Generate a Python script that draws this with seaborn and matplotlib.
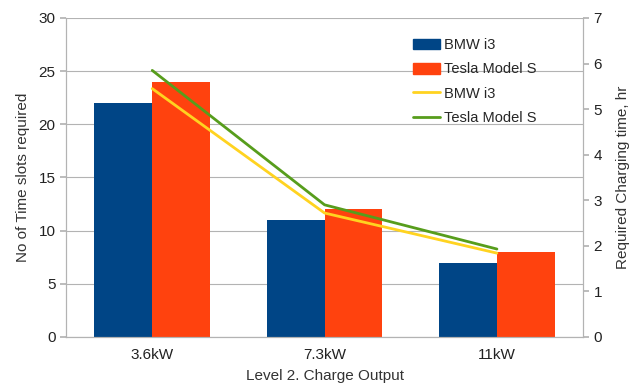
import matplotlib
matplotlib.use("Agg")
import matplotlib.pyplot as plt
import seaborn as sns
import pandas as pd
from matplotlib.patches import Patch
from matplotlib.lines import Line2D

categories = ["3.6kW", "7.3kW", "11kW"]
slots_bmw = [22, 11, 7]
slots_tesla = [24, 12, 8]
hours_bmw = [5.45, 2.72, 1.84]
hours_tesla = [5.85, 2.9, 1.93]
series = ["BMW i3", "Tesla Model S"]

blue, orange, yellow, green = "#004586", "#ff420e", "#ffd320", "#579d1c"
grid_gray = "#b3b3b3"
text_col = "#222222"
fs = 11

sns.set_theme(style="white")
plt.rcParams["font.family"] = ["Liberation Sans", "DejaVu Sans"]
plt.rcParams["font.size"] = fs

bars = pd.DataFrame({
    "output": categories * 2,
    "slots": slots_bmw + slots_tesla,
    "car": [series[0]] * 3 + [series[1]] * 3,
})
lines = pd.DataFrame({
    "pos": list(range(len(categories))) * 2,
    "hours": hours_bmw + hours_tesla,
    "car": [series[0]] * 3 + [series[1]] * 3,
})

fig = plt.figure(figsize=(6.29, 3.85), dpi=100)
ax = fig.add_axes([0.105, 0.1247, 0.822, 0.8286])

# bars: time slots per charger output
sns.barplot(data=bars, x="output", y="slots", hue="car", order=categories,
            hue_order=series, palette=[blue, orange], width=0.67,
            saturation=1, ax=ax, legend=False, linewidth=0)
ax.set_ylim(0, 30)
ax.set_yticks(range(0, 31, 5))
ax.set_xlim(-0.5, 2.5)
ax.yaxis.grid(True, color=grid_gray, linewidth=0.8)
ax.set_axisbelow(True)
ax.set_ylabel("No of Time slots required", fontsize=fs, color="#333333", labelpad=6)
ax.set_xlabel("Level 2. Charge Output", fontsize=fs, color="#333333", labelpad=5)
ax.set_xticks(range(len(categories)))
ax.set_xticklabels(categories)
ax.set_xticks([0.5, 1.5], minor=True)
ax.tick_params(axis="x", which="major", length=0, pad=8, labelsize=fs, labelcolor=text_col)
ax.tick_params(axis="x", which="minor", length=5, color=grid_gray, direction="out")
ax.tick_params(axis="y", length=4, color=grid_gray, direction="out", labelsize=fs, labelcolor=text_col)
for sp in ax.spines.values():
    sp.set_color(grid_gray)
    sp.set_linewidth(0.8)
ax.spines["top"].set_visible(False)

# lines: charging time on the secondary axis
ax2 = ax.twinx()
sns.lineplot(data=lines, x="pos", y="hours", hue="car", hue_order=series,
             palette=[yellow, green], linewidth=2, ax=ax2, legend=False)
ax2.set_ylim(0, 7)
ax2.set_yticks(range(0, 8))
ax2.set_xlim(-0.5, 2.5)
ax2.set_ylabel("Required Charging time, hr", fontsize=fs, color="#333333", labelpad=10)
ax2.tick_params(axis="y", length=4, color=grid_gray, direction="out", labelsize=fs, labelcolor=text_col)
for sp in ax2.spines.values():
    sp.set_color(grid_gray)
    sp.set_linewidth(0.8)
ax2.spines["top"].set_visible(False)

handles = [Patch(color=blue), Patch(color=orange),
           Line2D([], [], color=yellow, linewidth=2),
           Line2D([], [], color=green, linewidth=2)]
ax2.legend(handles, series + series, loc="upper left", bbox_to_anchor=(0.66, 0.955),
           frameon=False, fontsize=10.5, handlelength=1.85, handleheight=0.75,
           labelspacing=0.7, handletextpad=0.3, borderaxespad=0)

fig.savefig("out.png", dpi=100)
